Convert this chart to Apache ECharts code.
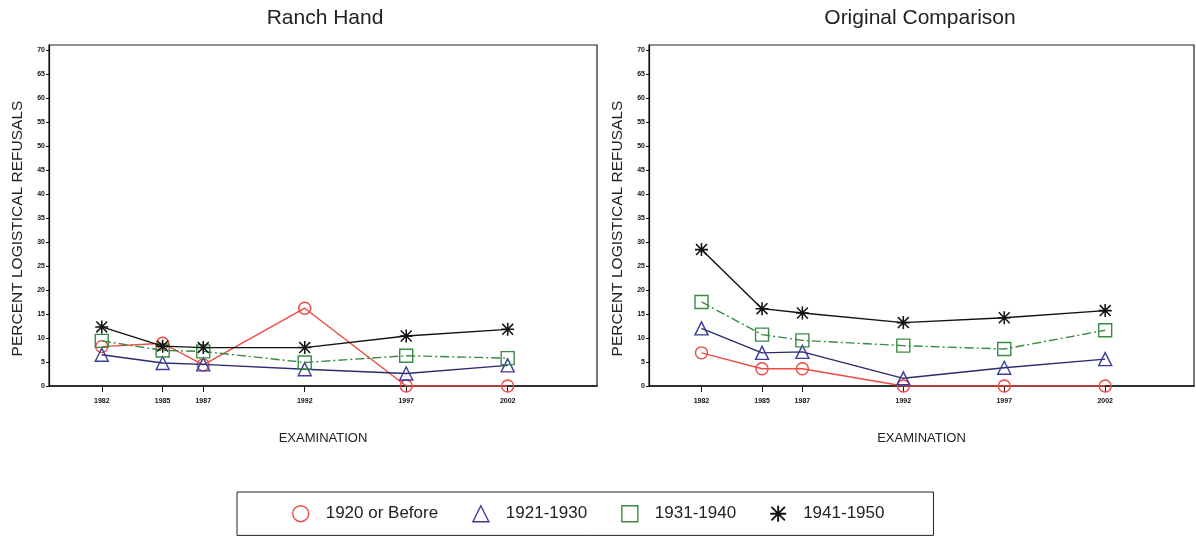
<!DOCTYPE html>
<html>
<head>
<meta charset="utf-8">
<script src="https://cdn.jsdelivr.net/npm/echarts@6/dist/echarts.min.js"></script>
<style>
  html, body { margin: 0; padding: 0; background: #fff; }
  #main { width: 1196px; height: 538px; }
</style>
</head>
<body>
<div id="main"></div>
<script>
var years = [1982, 1985, 1987, 1992, 1997, 2002];
var groups = ["1920 or Before", "1921-1930", "1931-1940", "1941-1950"];

// Ranch Hand
var rh1920 = [8.2, 8.9, 4.4, 16.2, 0, 0];
var rh1921 = [6.5, 4.8, 4.5, 3.5, 2.6, 4.3];
var rh1931 = [9.4, 7.4, 7.2, 4.9, 6.3, 5.8];
var rh1941 = [12.3, 8.3, 8.0, 8.0, 10.4, 11.8];

// Original Comparison
var oc1920 = [6.9, 3.6, 3.6, 0, 0, 0];
var oc1921 = [12.0, 6.9, 7.1, 1.6, 3.8, 5.6];
var oc1931 = [17.5, 10.7, 9.5, 8.4, 7.7, 11.6];
var oc1941 = [28.4, 16.1, 15.2, 13.2, 14.2, 15.7];

var starPath = "path://M0,4.4 L10,4.4 L10,5.6 L0,5.6 Z M4.4,0 L5.6,0 L5.6,10 L4.4,10 Z " +
  "M1.2,0.4 L9.6,8.8 L8.8,9.6 L0.4,1.2 Z M8.8,0.4 L9.6,1.2 L1.2,9.6 L0.4,8.8 Z";

var colors = ["#ec4a42", "#3b3d9a", "#3a8a45", "#111111"];
var symbols = ["circle", "triangle", "rect", starPath];
var sizes = [12, 13, 13, 13];

var toPoints = function (vals) {
  var res = [];
  for (var i = 0; i < years.length; i++) {
    res.push([years[i], vals[i]]);
  }
  return res;
};

var makeSeries = function (idx, vals, k) {
  var isStar = k === 3;
  return {
    name: groups[k],
    type: "line",
    xAxisIndex: idx,
    yAxisIndex: idx,
    data: toPoints(vals),
    symbol: symbols[k],
    symbolSize: sizes[k],
    showAllSymbol: true,
    z: 2 + k,
    itemStyle: {
      color: isStar ? "#111" : "rgba(255,255,255,0)",
      borderColor: colors[k],
      borderWidth: isStar ? 0 : 1.4,
    },
    lineStyle: {
      color: k === 1 ? "#2a2c6e" : colors[k],
      width: 1.4,
      type: k === 2 ? [9, 3, 2, 3] : "solid",
    },
    emphasis: { disabled: true },
  };
};

var xAxisFor = function (idx) {
  return {
    type: "value",
    gridIndex: idx,
    min: 1979.4,
    max: 2006.4,
    name: "EXAMINATION",
    nameLocation: "middle",
    nameGap: 46,
    nameTextStyle: { fontSize: 13, color: "#222", fontFamily: "Liberation Sans" },
    axisLine: { lineStyle: { color: "#111", width: 1.5 } },
    axisTick: { customValues: years, length: 6, lineStyle: { color: "#111" } },
    axisLabel: {
      customValues: years,
      fontSize: 7,
      fontWeight: "bold",
      color: "#111",
      margin: 12,
      formatter: function (v) { return String(v); },
    },
    splitLine: { show: false },
  };
};

var yAxisFor = function (idx) {
  return {
    type: "value",
    gridIndex: idx,
    min: 0,
    max: 71,
    interval: 5,
    name: "PERCENT LOGISTICAL REFUSALS",
    nameLocation: "middle",
    nameGap: 23,
    nameTextStyle: {
      fontSize: 15.5,
      color: "#222",
      fontFamily: "Liberation Sans",
      padding: [0, 26, 0, 0],
    },
    axisLine: { show: true, lineStyle: { color: "#111", width: 1.2 } },
    axisTick: { show: true, length: 3, lineStyle: { color: "#111" } },
    axisLabel: { fontSize: 7, fontWeight: "bold", color: "#111", margin: 4, showMaxLabel: false },
    splitLine: { show: false },
  };
};

var option = {
  backgroundColor: "#fff",
  animation: false,
  title: [
    {
      text: "Ranch Hand",
      left: 320,
      top: 3,
      textAlign: "center",
      textStyle: { fontSize: 21, fontWeight: "normal", color: "#222", fontFamily: "Liberation Sans" },
    },
    {
      text: "Original Comparison",
      left: 915,
      top: 3,
      textAlign: "center",
      textStyle: { fontSize: 21, fontWeight: "normal", color: "#222", fontFamily: "Liberation Sans" },
    },
  ],
  grid: [
    { left: 49, right: 599, top: 45, bottom: 152, show: true, borderColor: "#222", borderWidth: 1.2 },
    { left: 649, right: 2, top: 45, bottom: 152, show: true, borderColor: "#222", borderWidth: 1.2 },
  ],
  xAxis: [xAxisFor(0), xAxisFor(1)],
  yAxis: [yAxisFor(0), yAxisFor(1)],
  legend: {
    left: 237,
    top: 492,
    orient: "horizontal",
    borderColor: "#222",
    borderWidth: 1,
    padding: [13, 49, 13, 55],
    itemGap: 34,
    itemWidth: 16,
    itemHeight: 16,
    textStyle: { fontSize: 17, color: "#222", fontFamily: "Liberation Sans", padding: [0, 0, 0, 12] },
    data: [
      { name: groups[0], icon: "circle", itemStyle: { color: "#fff", borderColor: colors[0], borderWidth: 1.4 } },
      { name: groups[1], icon: "triangle", itemStyle: { color: "#fff", borderColor: colors[1], borderWidth: 1.4 } },
      { name: groups[2], icon: "rect", itemStyle: { color: "#fff", borderColor: colors[2], borderWidth: 1.4 } },
      { name: groups[3], icon: starPath, itemStyle: { color: "#111", borderWidth: 0 } },
    ],
    selectedMode: false,
  },
  series: [
    makeSeries(0, rh1920, 0),
    makeSeries(0, rh1921, 1),
    makeSeries(0, rh1931, 2),
    makeSeries(0, rh1941, 3),
    makeSeries(1, oc1920, 0),
    makeSeries(1, oc1921, 1),
    makeSeries(1, oc1931, 2),
    makeSeries(1, oc1941, 3),
  ],
};

var chart = echarts.init(document.getElementById("main"));
chart.setOption(option);
</script>
</body>
</html>
